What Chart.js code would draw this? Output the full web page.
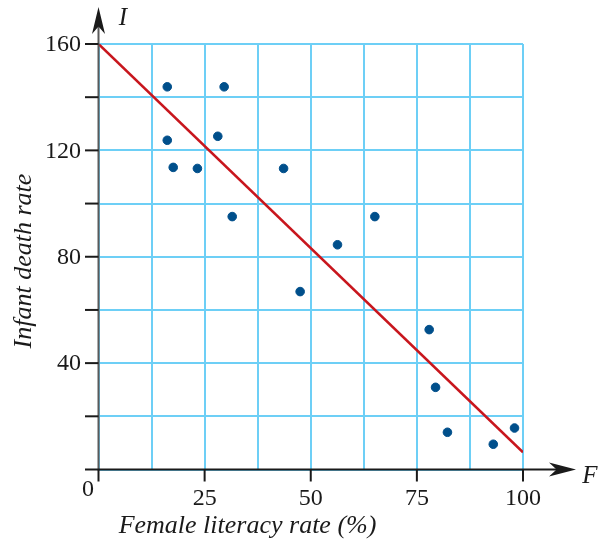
<!DOCTYPE html>
<html>
<head>
<meta charset="utf-8">
<script src="https://cdn.jsdelivr.net/npm/chart.js@4.4.1/dist/chart.umd.min.js"></script>
<style>
  html, body { margin: 0; padding: 0; background: #ffffff; }
  #wrap { width: 601px; height: 541px; position: relative; }
</style>
</head>
<body>
<div id="wrap"><canvas id="chart" width="601" height="541"></canvas></div>
<script>
// Female literacy rate (%) against infant death rate, one point per country
const literacy = [16.2, 29.6, 16.2, 28.1, 17.6, 23.3, 43.6, 31.5, 47.5, 56.3, 65.1, 77.9, 79.4, 82.2, 93.0, 98.0];
const deaths   = [143.9, 143.9, 123.8, 125.3, 113.6, 113.2, 113.2, 95.1, 66.9, 84.5, 95.1, 52.6, 30.9, 14.0, 9.5, 15.6];

// Line of best fit, given by its two end points
const fitX = [0, 100];
const fitY = [160, 6.5];

// Labelled ticks on each axis
const xTickLabels = [0, 25, 50, 75, 100];
const yTickValues = [20, 40, 60, 80, 100, 120, 140, 160];
const yTickLabels = [40, 80, 120, 160];

const GRID = '#6dcff6';
const DOT = '#004f8b';
const FIT = '#c8161d';
const SERIF = '"Liberation Serif", serif';

function arrowHead(ctx, tipX, tipY, dir, len, half) {
  ctx.beginPath();
  if (dir === 'up') {
    ctx.moveTo(tipX, tipY);
    ctx.lineTo(tipX - half, tipY + len);
    ctx.lineTo(tipX, tipY + len * 0.72);
    ctx.lineTo(tipX + half, tipY + len);
  } else {
    ctx.moveTo(tipX, tipY);
    ctx.lineTo(tipX - len, tipY - half);
    ctx.lineTo(tipX - len * 0.72, tipY);
    ctx.lineTo(tipX - len, tipY + half);
  }
  ctx.closePath();
  ctx.fill();
}

const axesPlugin = {
  id: 'axesPlugin',
  afterDatasetsDraw(chart) {
    const ctx = chart.ctx;
    const xs = chart.scales.x, ys = chart.scales.y;
    const x0 = xs.getPixelForValue(0);
    const y0 = ys.getPixelForValue(0);
    ctx.save();

    // vertical axis (grey) with arrow
    ctx.strokeStyle = '#5a5a5a';
    ctx.lineWidth = 2;
    ctx.beginPath();
    ctx.moveTo(x0, y0 + 1);
    ctx.lineTo(x0, 14);
    ctx.stroke();
    ctx.fillStyle = '#1a1a1a';
    arrowHead(ctx, x0, 7, 'up', 27, 6.5);

    // horizontal axis (black) with arrow
    ctx.strokeStyle = '#1a1a1a';
    ctx.lineWidth = 2.2;
    ctx.beginPath();
    ctx.moveTo(85, y0);
    ctx.lineTo(565, y0);
    ctx.stroke();
    arrowHead(ctx, 576, y0, 'right', 27, 7);

    // y tick marks
    ctx.lineWidth = 2;
    yTickValues.forEach(v => {
      const py = ys.getPixelForValue(v);
      ctx.beginPath();
      ctx.moveTo(85, py);
      ctx.lineTo(x0, py);
      ctx.stroke();
    });
    // x tick marks
    xTickLabels.forEach(v => {
      const px = xs.getPixelForValue(v);
      ctx.beginPath();
      ctx.moveTo(px, y0);
      ctx.lineTo(px, y0 + 12);
      ctx.stroke();
    });

    // tick labels
    ctx.fillStyle = '#1a1a1a';
    ctx.font = '24px ' + SERIF;
    ctx.textAlign = 'right';
    ctx.textBaseline = 'middle';
    yTickLabels.forEach(v => {
      ctx.fillText(String(v), 81, ys.getPixelForValue(v) + 1);
    });
    ctx.textAlign = 'center';
    xTickLabels.forEach(v => {
      if (v === 0) {
        ctx.fillText('0', 88, y0 + 20);
      } else {
        ctx.fillText(String(v), xs.getPixelForValue(v), y0 + 29);
      }
    });

    // axis letters and titles
    ctx.font = 'italic 25px ' + SERIF;
    ctx.textAlign = 'center';
    ctx.fillText('I', 123, 18);
    ctx.fillText('F', 590, y0 + 7);

    ctx.font = 'italic 26px ' + SERIF;
    ctx.textBaseline = 'alphabetic';
    ctx.fillText('Female literacy rate (%)', 247.5, 533);
    ctx.save();
    ctx.translate(31, 261);
    ctx.rotate(-Math.PI / 2);
    ctx.fillText('Infant death rate', 0, 0);
    ctx.restore();

    ctx.restore();
  }
};

const pts = literacy.map((x, i) => ({ x: x, y: deaths[i] }));
const fitPts = fitX.map((x, i) => ({ x: x, y: fitY[i] }));

new Chart(document.getElementById('chart'), {
  type: 'scatter',
  data: {
    datasets: [
      {
        data: pts,
        backgroundColor: DOT,
        borderColor: DOT,
        pointRadius: 4.3,
        pointHoverRadius: 4.3,
        order: 1
      },
      {
        type: 'line',
        data: fitPts,
        borderColor: FIT,
        borderWidth: 2.6,
        pointRadius: 0,
        fill: false,
        order: 2
      }
    ]
  },
  options: {
    responsive: false,
    animation: false,
    events: [],
    layout: { padding: { left: 98.5, right: 78, top: 44, bottom: 71.5 } },
    plugins: { legend: { display: false }, tooltip: { enabled: false } },
    scales: {
      x: {
        type: 'linear',
        min: 0, max: 100,
        ticks: { display: false, stepSize: 12.5 },
        grid: { color: GRID, lineWidth: 2, drawTicks: false },
        border: { display: false }
      },
      y: {
        type: 'linear',
        min: 0, max: 160,
        ticks: { display: false, stepSize: 20 },
        grid: { color: GRID, lineWidth: 2, drawTicks: false },
        border: { display: false }
      }
    }
  },
  plugins: [axesPlugin]
});
</script>
</body>
</html>
